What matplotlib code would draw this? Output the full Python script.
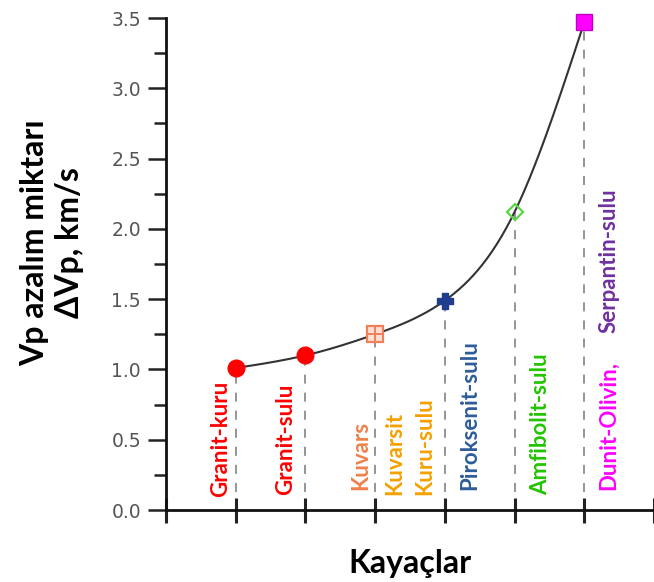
import numpy as np
import matplotlib
matplotlib.use("Agg")
import matplotlib.pyplot as plt

# ---- data ----
x_pos = [1, 2, 3, 4, 5, 6]
dvp = [1.01, 1.10, 1.25, 1.49, 2.12, 3.47]
markers = ['o', 'o', 's', 'P', 'D', 's']
marker_colors = ['#ff0000', '#ff0000', '#f0805a', '#1f3c8f', '#5dd44a', '#ff00ff']
marker_filled = [True, True, False, True, False, True]

labels = ['Granit-kuru', 'Granit-sulu', 'Kuvars', 'Kuvarsit', 'Kuru-sulu',
          'Piroksenit-sulu', 'Amfibolit-sulu', 'Dunit-Olivin,', 'Serpantin-sulu']
label_x = [0.78, 1.72, 2.80, 3.28, 3.71, 4.36, 5.37, 6.34, 6.35]
label_y = [0.09, 0.11, 0.14, 0.11, 0.11, 0.14, 0.11, 0.14, 1.26]
label_colors = ['#ff0000', '#ff0000', '#f0804a', '#f5a000', '#f5a000',
                '#2e5c9a', '#22c400', '#ff00ff', '#7030a0']

yticks = [0.0, 0.5, 1.0, 1.5, 2.0, 2.5, 3.0, 3.5]
ylabel = 'Vp azalım miktarı\nΔVp, km/s'
xlabel = 'Kayaçlar'


def natural_spline(x, y, xs):
    x = np.asarray(x, float); y = np.asarray(y, float)
    n = len(x)
    h = np.diff(x)
    A = np.zeros((n, n)); b = np.zeros(n)
    A[0, 0] = 1; A[-1, -1] = 1
    for i in range(1, n - 1):
        A[i, i - 1] = h[i - 1]
        A[i, i] = 2 * (h[i - 1] + h[i])
        A[i, i + 1] = h[i]
        b[i] = 3 * ((y[i + 1] - y[i]) / h[i] - (y[i] - y[i - 1]) / h[i - 1])
    c = np.linalg.solve(A, b)
    out = np.empty_like(xs)
    for k, xv in enumerate(xs):
        i = min(max(np.searchsorted(x, xv) - 1, 0), n - 2)
        dx = xv - x[i]
        bi = (y[i + 1] - y[i]) / h[i] - h[i] * (2 * c[i] + c[i + 1]) / 3
        di = (c[i + 1] - c[i]) / (3 * h[i])
        out[k] = y[i] + bi * dx + c[i] * dx ** 2 + di * dx ** 3
    return out


fig = plt.figure(figsize=(6.54, 5.82), dpi=100)
ax = fig.add_axes([166 / 654, 72 / 582, 1 - 166 / 654, 492 / 582])

# dashed verticals
for xv, yv in zip(x_pos, dvp):
    ax.plot([xv, xv], [0, yv], color='#8c8c8c', lw=1.3, ls=(0, (5, 5)), zorder=1)

# curve
xs = np.linspace(x_pos[0], x_pos[-1], 300)
ax.plot(xs, natural_spline(x_pos, dvp, xs), color='#333333', lw=1.5, zorder=2)

# markers
for xv, yv, m, c, f in zip(x_pos, dvp, markers, marker_colors, marker_filled):
    ms = {'o': 12, 's': 11, 'P': 11, 'D': 8}[m]
    if m == 's' and not f:
        ax.plot(xv, yv, marker='s', ms=ms, mfc='#fde0d4', mec=c, mew=1.6, ls='none', zorder=3, clip_on=False)
        ax.plot(xv, yv, marker='+', ms=ms, mec=c, mew=1.4, ls='none', zorder=4, clip_on=False)
    elif f:
        ax.plot(xv, yv, marker=m, ms=ms, mfc=c, mec=c if m != 's' else '#c000c0', mew=1,
                ls='none', zorder=3, clip_on=False)
    else:
        ax.plot(xv, yv, marker=m, ms=ms, mfc='none', mec=c, mew=1.6, ls='none', zorder=3, clip_on=False)

# labels
for t, lx, ly, c in zip(labels, label_x, label_y, label_colors):
    ax.text(lx, ly, t, rotation=90, color=c, fontsize=16, fontweight='bold',
            family='Lato', ha='center', va='bottom', zorder=5)

ax.set_xlim(0, 7)
ax.set_ylim(0, 3.5)
ax.set_yticks(yticks)
ax.set_yticklabels([f'{v:.1f}' for v in yticks], family='DejaVu Sans', fontsize=13.5, color='#555555')
ax.set_yticks(np.arange(0.25, 3.5, 0.5), minor=True)
ax.set_xticks(range(0, 8))
ax.set_xticklabels([])
ax.tick_params(axis='y', which='major', direction='out', length=13, width=1.8, color='#222222', pad=5)
ax.tick_params(axis='y', which='minor', direction='out', length=9, width=1.8, color='#222222')
ax.tick_params(axis='x', which='major', direction='inout', length=18, width=2.2, color='#222222')

for s in ['top', 'right']:
    ax.spines[s].set_visible(False)
for s in ['left', 'bottom']:
    ax.spines[s].set_linewidth(2)
    ax.spines[s].set_color('#111111')

ax.set_ylabel(ylabel, family='Lato', fontweight='bold', fontsize=23, linespacing=1.25,
              ha='center', va='center')
ax.yaxis.set_label_coords((52 - 166) / 488, (510 - 243) / 492)
ax.set_xlabel(xlabel, family='Lato', fontweight='bold', fontsize=23, ha='center', va='center')
ax.xaxis.set_label_coords((410 - 166) / 488, (510 - 563) / 492)

fig.savefig('out.png', dpi=100)
